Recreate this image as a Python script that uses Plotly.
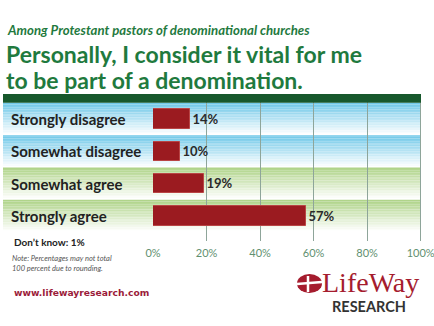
import plotly.graph_objects as go

categories = ["Strongly disagree", "Somewhat disagree", "Somewhat agree", "Strongly agree"]
values = [14, 10, 19, 57]
value_labels = ["14%", "10%", "19%", "57%"]
tick_vals = [0, 20, 40, 60, 80, 100]
tick_text = ["0%", "20%", "40%", "60%", "80%", "100%"]
band_tops = [(112, 200, 232), (112, 200, 232), (176, 212, 138), (176, 212, 138)]

W, H = 434, 326
ML, MR, MT, MB = 153, 8, 94, 85
PW, PH = W - ML - MR, H - MT - MB
Y0, Y1 = 3.774, -0.774  # reversed y range
XMAX = 102.0


def px(x):
    return (x - ML) / PW


def py(y):
    return (H - MB - y) / PH


def ypaper(v):
    return (v - Y0) / (Y1 - Y0)


idx = list(range(len(categories)))
fig = go.Figure()
fig.add_trace(go.Bar(
    x=values, y=idx, orientation="h", width=0.59,
    marker=dict(color="#9b1b20", line=dict(color="#b94545", width=1)),
    text=value_labels, textposition="outside", cliponaxis=False,
    textfont=dict(family="Lato", size=13, color="#2a2a2a", weight="bold"),
    hoverinfo="skip",
))

shapes = []
# gradient bands
N = 20
for i, top in enumerate(band_tops):
    a, b = i - 0.5, i + 0.5
    for k in range(N):
        t = k / (N - 1)
        c = tuple(int(round(top[j] + (255 - top[j]) * t)) for j in range(3))
        ya = a + (b - a) * k / N
        yb = a + (b - a) * (k + 1) / N
        shapes.append(dict(type="rect", xref="paper", yref="paper",
                           x0=px(3), x1=px(421), y0=ypaper(ya), y1=ypaper(yb),
                           fillcolor="rgb(%d,%d,%d)" % c, line=dict(width=0),
                           layer="below"))
# dark header bar
shapes.append(dict(type="rect", xref="paper", yref="paper",
                   x0=px(3), x1=px(421), y0=ypaper(-0.5), y1=py(94),
                   fillcolor="#17582c", line=dict(width=0), layer="above"))
# logo ellipse and cross
shapes.append(dict(type="circle", xref="paper", yref="paper",
                   x0=px(297), x1=px(322), y0=py(293), y1=py(274),
                   fillcolor="#a51c2e", line=dict(width=0), layer="above"))
shapes.append(dict(type="line", xref="paper", yref="paper",
                   x0=px(297), x1=px(322), y0=py(284), y1=py(282),
                   line=dict(color="white", width=2.5), layer="above"))
shapes.append(dict(type="line", xref="paper", yref="paper",
                   x0=px(308), x1=px(308), y0=py(276), y1=py(292),
                   line=dict(color="white", width=2.5), layer="above"))
fig.update_layout(shapes=shapes)

ann = []


def add(text, x, y, size, color, family="Lato", weight="normal", style="normal", xanchor="left"):
    ann.append(dict(text=text, x=px(x), y=py(y), xref="paper", yref="paper",
                    xanchor=xanchor, yanchor="middle", showarrow=False,
                    font=dict(family=family, size=size, color=color, weight=weight, style=style)))


add("Among Protestant pastors of denominational churches", 5, 30, 13.2, "#1f7a3e", weight="bold", style="italic")
add("Personally, I consider it vital for me", 4, 54, 23, "#1f7a3e", weight="bold")
add("to be part of a denomination.", 4, 80, 23, "#1f7a3e", weight="bold")
for i, c in enumerate(categories):
    ann.append(dict(text=c, x=px(9), y=ypaper(i), xref="paper", yref="paper",
                    xanchor="left", yanchor="middle", showarrow=False,
                    font=dict(family="Lato", size=15, color="#222222", weight="bold")))
add("Don\u2019t know: 1%", 12, 242, 10, "#222222", weight="bold")
add("Note: Percentages may not total", 10, 258, 7.5, "#555555", style="italic")
add("100 percent due to rounding.", 10, 268, 7.5, "#555555", style="italic")
add("www.lifewayresearch.com", 12, 292, 9.2, "#9b1b3a", family="DejaVu Sans", weight="bold")
add("LifeWay", 320, 282, 28, "#a51c2e", family="Liberation Serif")
add("RESEARCH", 330, 306, 14.5, "#333333", family="Lato", weight="bold")
fig.update_layout(annotations=ann)

fig.update_layout(
    width=W, height=H,
    margin=dict(l=ML, r=MR, t=MT, b=MB, pad=0, autoexpand=False),
    paper_bgcolor="white", plot_bgcolor="rgba(0,0,0,0)",
    showlegend=False, bargap=0,
    xaxis=dict(range=[0, XMAX], tickvals=tick_vals, ticktext=tick_text,
               showgrid=True, gridcolor="#8ea59a", gridwidth=1, zeroline=False,
               showline=False, ticks="", ticklabelstandoff=4, ticklabeloverflow="allow",
               automargin=False,
               tickfont=dict(family="Lato", size=11, color="#5f9070"), fixedrange=True),
    yaxis=dict(range=[Y0, Y1], showgrid=False, zeroline=False, showticklabels=False,
               showline=False, ticks="", fixedrange=True, automargin=False),
)

fig.write_html("out.html", config={"displayModeBar": False})
